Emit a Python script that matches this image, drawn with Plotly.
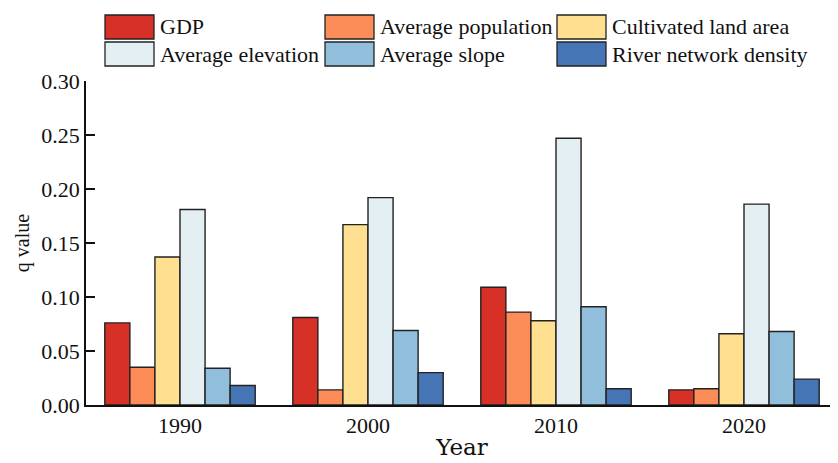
import plotly.graph_objects as go

years = ["1990", "2000", "2010", "2020"]
series_names = ["GDP", "Average population", "Cultivated land area",
                "Average elevation", "Average slope", "River network density"]
gdp = [0.076, 0.081, 0.109, 0.014]
population = [0.035, 0.014, 0.086, 0.015]
cultivated = [0.137, 0.167, 0.078, 0.066]
elevation = [0.181, 0.192, 0.247, 0.186]
slope = [0.034, 0.069, 0.091, 0.068]
river = [0.018, 0.030, 0.015, 0.024]
values = [gdp, population, cultivated, elevation, slope, river]
colors = ["#d73027", "#fc8d59", "#fee090", "#e3eff2", "#91bfdb", "#4575b4"]

fig = go.Figure()
for name, vals, col in zip(series_names, values, colors):
    fig.add_trace(go.Bar(x=years, y=vals, name=name, marker_color=col,
                         marker_line_color="#222222", marker_line_width=1.4,
                         showlegend=False))

# page offset compensation (browser body margin ~8px)
OFF = 8
W, H = 838, 463
PL, PR, PT, PB = 86, 838, 81, 405  # plot area in window pixels

# manual legend (3 columns x 2 rows), positioned in window pixels
col_x = [105, 325, 557]
row_y = [27, 54]
sw_w, sw_h = 49, 24
for i, (name, col) in enumerate(zip(series_names, colors)):
    r, c = divmod(i, 3)
    x0 = col_x[c]
    yc = row_y[r]
    fig.add_shape(type="rect", xref="paper", yref="paper",
                  x0=(x0 - PL) / (PR - PL), x1=(x0 + sw_w - PL) / (PR - PL),
                  y0=(PB - (yc + sw_h / 2)) / (PB - PT), y1=(PB - (yc - sw_h / 2)) / (PB - PT),
                  fillcolor=col, line=dict(color="#222222", width=1.3))
    fig.add_annotation(xref="paper", yref="paper",
                       x=(x0 + sw_w + 4 - PL) / (PR - PL), y=(PB - yc) / (PB - PT),
                       text=name, showarrow=False, xanchor="left", yanchor="middle",
                       font=dict(family="Liberation Serif", size=22, color="#111"))

fig.update_layout(
    width=W, height=H,
    margin=dict(l=PL - OFF, r=W - PR + OFF, t=PT - OFF, b=H - PB + OFF),
    paper_bgcolor="white", plot_bgcolor="white",
    barmode="group", bargap=0.2, bargroupgap=0,
    font=dict(family="Liberation Serif", size=22, color="#111"),
)
fig.update_yaxes(range=[0, 0.30], dtick=0.05, tickformat=".2f",
                 ticks="inside", ticklen=9, tickwidth=1.5, tickcolor="#111",
                 showline=True, linecolor="#111", linewidth=1.5, showgrid=False,
                 zeroline=False,
                 title=dict(text="q value", font=dict(family="Liberation Serif", size=20),
                            standoff=6))
fig.update_xaxes(range=[-0.5, 3.5], showline=True, linecolor="#111", linewidth=1.5,
                 ticks="", showgrid=False,
                 title=dict(text="Year", font=dict(family="DejaVu Serif", size=23),
                            standoff=2))

fig.write_html("out.html")
